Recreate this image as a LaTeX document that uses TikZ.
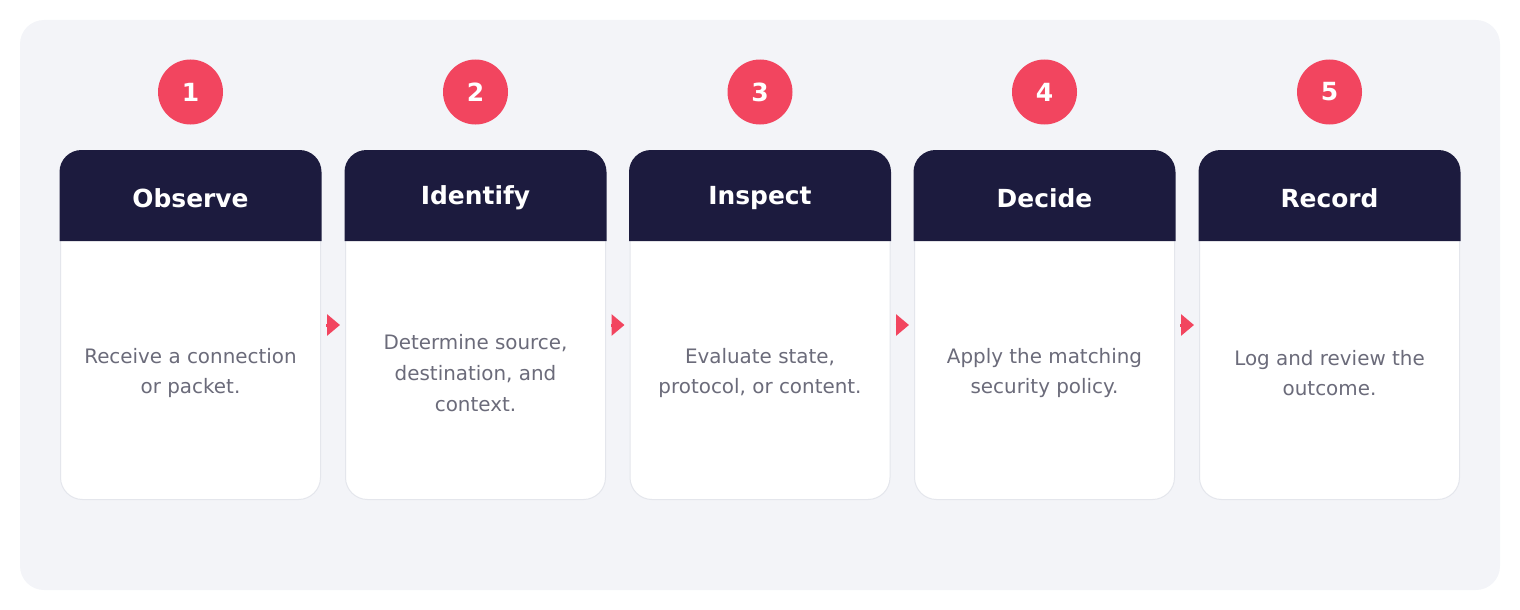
\documentclass[tikz,border=0pt]{standalone}
\usepackage{fontspec}
\setmainfont{DejaVu Sans}
\usetikzlibrary{arrows.meta}
\definecolor{panel}{HTML}{F3F4F8}
\definecolor{navy}{HTML}{1C1B3E}
\definecolor{pinkred}{HTML}{F2455F}
\definecolor{bodygray}{HTML}{6B6B7A}
\definecolor{cardline}{HTML}{E4E6EC}
\tikzset{
  cardbox/.style={draw=cardline, line width=1pt, fill=white, rounded corners=22pt,
    minimum width=260pt, minimum height=349pt, inner sep=0pt},
  headtext/.style={text=white, font=\fontsize{24.9}{29}\selectfont\bfseries, inner sep=0pt},
  numcircle/.style={circle, fill=pinkred, minimum size=65pt, inner sep=0pt,
    text=white, font=\fontsize{25}{29}\selectfont\bfseries},
  bodytext/.style={text=bodygray, font=\fontsize{19.9}{30.7}\selectfont, align=center, inner sep=0pt},
  flowarrow/.style={draw=pinkred, line width=3pt, -{Triangle[length=13pt,width=21pt]},
    shorten <=5pt, shorten >=5pt}
}
\begin{document}
\begin{tikzpicture}[x=1pt,y=-1pt]
\useasboundingbox (0,0) rectangle (1520,610);
\fill[panel, rounded corners=24pt] (20,20) rectangle (1500,590);
\foreach \i/\cx/\title/\body in {
  1/190.5/Observe/{Receive a connection\\or packet.},
  2/475.5/Identify/{Determine source,\\destination, and\\context.},
  3/760/Inspect/{Evaluate state,\\protocol, or content.},
  4/1044.5/Decide/{Apply the matching\\security policy.},
  5/1329.5/Record/{Log and review the\\outcome.}}{
  \node[cardbox] (c\i) at (\cx,325) {};
  \fill[navy] (\cx-131,241) [rounded corners=22pt] -- (\cx-131,150) -- (\cx+131,150) [sharp corners] -- (\cx+131,241) -- cycle;
  \node[headtext] (h\i) at (\cx,198) {\title};
  \node[numcircle] (n\i) at (\cx,92) {\i};
  \node[bodytext] (b\i) at (\cx,373) {\body};
}
\foreach \a/\b in {1/2,2/3,3/4,4/5}{
  \draw[flowarrow] (c\a.east) -- (c\b.west);
}
\end{tikzpicture}
\end{document}
